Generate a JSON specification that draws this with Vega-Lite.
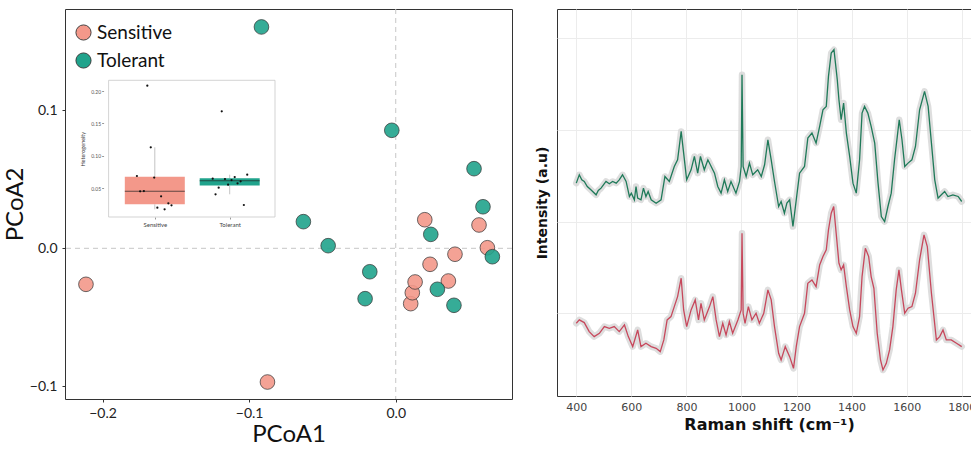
{
  "$schema": "https://vega.github.io/schema/vega-lite/v6.json",
  "padding": {"left": 2, "top": 8, "right": 0, "bottom": 0},
  "spacing": 45,
  "bounds": "flush",
  "config": {
    "font": "Lato",
    "view": {"stroke": "#333333", "strokeWidth": 1},
    "axis": {"grid": false}
  },
  "resolve": {"scale": {"color": "independent"}},
  "datasets": {
    "pcoa": [
      {"group": "Sensitive", "PCoA1": -0.2113, "PCoA2": -0.0261},
      {"group": "Sensitive", "PCoA1": -0.0875, "PCoA2": -0.0969},
      {"group": "Sensitive", "PCoA1": 0.0198, "PCoA2": 0.0207},
      {"group": "Sensitive", "PCoA1": 0.0568, "PCoA2": 0.0169},
      {"group": "Sensitive", "PCoA1": 0.0625, "PCoA2": 0.0004},
      {"group": "Sensitive", "PCoA1": 0.0404, "PCoA2": -0.0043},
      {"group": "Sensitive", "PCoA1": 0.0234, "PCoA2": -0.0116},
      {"group": "Sensitive", "PCoA1": 0.0359, "PCoA2": -0.0237},
      {"group": "Sensitive", "PCoA1": 0.0102, "PCoA2": -0.0401},
      {"group": "Sensitive", "PCoA1": 0.0113, "PCoA2": -0.0322},
      {"group": "Sensitive", "PCoA1": 0.0132, "PCoA2": -0.0244},
      {"group": "Tolerant", "PCoA1": -0.0916, "PCoA2": 0.1604},
      {"group": "Tolerant", "PCoA1": -0.0027, "PCoA2": 0.0855},
      {"group": "Tolerant", "PCoA1": 0.0534, "PCoA2": 0.0577},
      {"group": "Tolerant", "PCoA1": 0.0595, "PCoA2": 0.0301},
      {"group": "Tolerant", "PCoA1": -0.063, "PCoA2": 0.0193},
      {"group": "Tolerant", "PCoA1": 0.0239, "PCoA2": 0.0101},
      {"group": "Tolerant", "PCoA1": -0.0461, "PCoA2": 0.0019},
      {"group": "Tolerant", "PCoA1": 0.0659, "PCoA2": -0.0061},
      {"group": "Tolerant", "PCoA1": -0.0177, "PCoA2": -0.017},
      {"group": "Tolerant", "PCoA1": -0.0209, "PCoA2": -0.0365},
      {"group": "Tolerant", "PCoA1": 0.0284, "PCoA2": -0.0297},
      {"group": "Tolerant", "PCoA1": 0.0397, "PCoA2": -0.0413}
    ],
    "het": [
      {"group": "Sensitive", "het": 0.2082, "jitter": -0.1},
      {"group": "Sensitive", "het": 0.1132, "jitter": -0.054},
      {"group": "Sensitive", "het": 0.069, "jitter": -0.239},
      {"group": "Sensitive", "het": 0.0666, "jitter": -0.008},
      {"group": "Sensitive", "het": 0.0454, "jitter": -0.196},
      {"group": "Sensitive", "het": 0.0458, "jitter": -0.146},
      {"group": "Sensitive", "het": 0.0377, "jitter": 0.084},
      {"group": "Sensitive", "het": 0.0201, "jitter": 0.034},
      {"group": "Sensitive", "het": 0.0176, "jitter": 0.131},
      {"group": "Sensitive", "het": 0.0269, "jitter": 0.181},
      {"group": "Sensitive", "het": 0.0238, "jitter": 0.223},
      {"group": "Tolerant", "het": 0.1687, "jitter": -0.106},
      {"group": "Tolerant", "het": 0.0648, "jitter": -0.227},
      {"group": "Tolerant", "het": 0.0643, "jitter": -0.063},
      {"group": "Tolerant", "het": 0.0628, "jitter": 0.025},
      {"group": "Tolerant", "het": 0.0674, "jitter": 0.067},
      {"group": "Tolerant", "het": 0.071, "jitter": 0.234},
      {"group": "Tolerant", "het": 0.0608, "jitter": 0.146},
      {"group": "Tolerant", "het": 0.0577, "jitter": 0.105},
      {"group": "Tolerant", "het": 0.0556, "jitter": -0.021},
      {"group": "Tolerant", "het": 0.0509, "jitter": -0.147},
      {"group": "Tolerant", "het": 0.0408, "jitter": -0.189},
      {"group": "Tolerant", "het": 0.0243, "jitter": 0.189}
    ],
    "spectra": [
      {"shift": 400, "sample": "Tolerant", "intensity": 650},
      {"shift": 411, "sample": "Tolerant", "intensity": 675},
      {"shift": 420, "sample": "Tolerant", "intensity": 660},
      {"shift": 429, "sample": "Tolerant", "intensity": 655},
      {"shift": 440, "sample": "Tolerant", "intensity": 640},
      {"shift": 453, "sample": "Tolerant", "intensity": 630},
      {"shift": 472, "sample": "Tolerant", "intensity": 615},
      {"shift": 480, "sample": "Tolerant", "intensity": 628},
      {"shift": 490, "sample": "Tolerant", "intensity": 635},
      {"shift": 508, "sample": "Tolerant", "intensity": 655},
      {"shift": 520, "sample": "Tolerant", "intensity": 648},
      {"shift": 532, "sample": "Tolerant", "intensity": 655},
      {"shift": 545, "sample": "Tolerant", "intensity": 650},
      {"shift": 556, "sample": "Tolerant", "intensity": 660},
      {"shift": 568, "sample": "Tolerant", "intensity": 675},
      {"shift": 581, "sample": "Tolerant", "intensity": 655},
      {"shift": 593, "sample": "Tolerant", "intensity": 610},
      {"shift": 600, "sample": "Tolerant", "intensity": 620},
      {"shift": 611, "sample": "Tolerant", "intensity": 600},
      {"shift": 617, "sample": "Tolerant", "intensity": 640},
      {"shift": 623, "sample": "Tolerant", "intensity": 605},
      {"shift": 635, "sample": "Tolerant", "intensity": 600},
      {"shift": 644, "sample": "Tolerant", "intensity": 635},
      {"shift": 653, "sample": "Tolerant", "intensity": 610},
      {"shift": 661, "sample": "Tolerant", "intensity": 625},
      {"shift": 672, "sample": "Tolerant", "intensity": 600},
      {"shift": 690, "sample": "Tolerant", "intensity": 590},
      {"shift": 708, "sample": "Tolerant", "intensity": 600},
      {"shift": 722, "sample": "Tolerant", "intensity": 670},
      {"shift": 738, "sample": "Tolerant", "intensity": 655},
      {"shift": 756, "sample": "Tolerant", "intensity": 700},
      {"shift": 768, "sample": "Tolerant", "intensity": 720},
      {"shift": 781, "sample": "Tolerant", "intensity": 805},
      {"shift": 790, "sample": "Tolerant", "intensity": 740},
      {"shift": 801, "sample": "Tolerant", "intensity": 660},
      {"shift": 817, "sample": "Tolerant", "intensity": 690},
      {"shift": 829, "sample": "Tolerant", "intensity": 730},
      {"shift": 841, "sample": "Tolerant", "intensity": 680},
      {"shift": 851, "sample": "Tolerant", "intensity": 730},
      {"shift": 865, "sample": "Tolerant", "intensity": 690},
      {"shift": 878, "sample": "Tolerant", "intensity": 720},
      {"shift": 890, "sample": "Tolerant", "intensity": 700},
      {"shift": 902, "sample": "Tolerant", "intensity": 680},
      {"shift": 914, "sample": "Tolerant", "intensity": 640},
      {"shift": 926, "sample": "Tolerant", "intensity": 620},
      {"shift": 938, "sample": "Tolerant", "intensity": 660},
      {"shift": 950, "sample": "Tolerant", "intensity": 625},
      {"shift": 962, "sample": "Tolerant", "intensity": 655},
      {"shift": 980, "sample": "Tolerant", "intensity": 620},
      {"shift": 993, "sample": "Tolerant", "intensity": 655},
      {"shift": 999, "sample": "Tolerant", "intensity": 700},
      {"shift": 1002, "sample": "Tolerant", "intensity": 975},
      {"shift": 1006, "sample": "Tolerant", "intensity": 700},
      {"shift": 1017, "sample": "Tolerant", "intensity": 670},
      {"shift": 1029, "sample": "Tolerant", "intensity": 710},
      {"shift": 1041, "sample": "Tolerant", "intensity": 675},
      {"shift": 1059, "sample": "Tolerant", "intensity": 690},
      {"shift": 1072, "sample": "Tolerant", "intensity": 670},
      {"shift": 1084, "sample": "Tolerant", "intensity": 705},
      {"shift": 1096, "sample": "Tolerant", "intensity": 780},
      {"shift": 1108, "sample": "Tolerant", "intensity": 720},
      {"shift": 1120, "sample": "Tolerant", "intensity": 655},
      {"shift": 1135, "sample": "Tolerant", "intensity": 580},
      {"shift": 1144, "sample": "Tolerant", "intensity": 595},
      {"shift": 1156, "sample": "Tolerant", "intensity": 560},
      {"shift": 1165, "sample": "Tolerant", "intensity": 590},
      {"shift": 1175, "sample": "Tolerant", "intensity": 600},
      {"shift": 1187, "sample": "Tolerant", "intensity": 520},
      {"shift": 1199, "sample": "Tolerant", "intensity": 600},
      {"shift": 1211, "sample": "Tolerant", "intensity": 680},
      {"shift": 1229, "sample": "Tolerant", "intensity": 700},
      {"shift": 1241, "sample": "Tolerant", "intensity": 785},
      {"shift": 1256, "sample": "Tolerant", "intensity": 800},
      {"shift": 1271, "sample": "Tolerant", "intensity": 770},
      {"shift": 1284, "sample": "Tolerant", "intensity": 820},
      {"shift": 1296, "sample": "Tolerant", "intensity": 870},
      {"shift": 1308, "sample": "Tolerant", "intensity": 880},
      {"shift": 1316, "sample": "Tolerant", "intensity": 970},
      {"shift": 1326, "sample": "Tolerant", "intensity": 1040},
      {"shift": 1336, "sample": "Tolerant", "intensity": 1050},
      {"shift": 1348, "sample": "Tolerant", "intensity": 960},
      {"shift": 1354, "sample": "Tolerant", "intensity": 900},
      {"shift": 1362, "sample": "Tolerant", "intensity": 840},
      {"shift": 1371, "sample": "Tolerant", "intensity": 890},
      {"shift": 1381, "sample": "Tolerant", "intensity": 800},
      {"shift": 1393, "sample": "Tolerant", "intensity": 730},
      {"shift": 1405, "sample": "Tolerant", "intensity": 650},
      {"shift": 1417, "sample": "Tolerant", "intensity": 620},
      {"shift": 1429, "sample": "Tolerant", "intensity": 720},
      {"shift": 1438, "sample": "Tolerant", "intensity": 860},
      {"shift": 1447, "sample": "Tolerant", "intensity": 880},
      {"shift": 1459, "sample": "Tolerant", "intensity": 860},
      {"shift": 1471, "sample": "Tolerant", "intensity": 820},
      {"shift": 1484, "sample": "Tolerant", "intensity": 770},
      {"shift": 1496, "sample": "Tolerant", "intensity": 650},
      {"shift": 1508, "sample": "Tolerant", "intensity": 550},
      {"shift": 1520, "sample": "Tolerant", "intensity": 535},
      {"shift": 1532, "sample": "Tolerant", "intensity": 580},
      {"shift": 1544, "sample": "Tolerant", "intensity": 620},
      {"shift": 1556, "sample": "Tolerant", "intensity": 720},
      {"shift": 1566, "sample": "Tolerant", "intensity": 790},
      {"shift": 1573, "sample": "Tolerant", "intensity": 840},
      {"shift": 1583, "sample": "Tolerant", "intensity": 780},
      {"shift": 1593, "sample": "Tolerant", "intensity": 700},
      {"shift": 1605, "sample": "Tolerant", "intensity": 710},
      {"shift": 1619, "sample": "Tolerant", "intensity": 720},
      {"shift": 1632, "sample": "Tolerant", "intensity": 760},
      {"shift": 1647, "sample": "Tolerant", "intensity": 870},
      {"shift": 1665, "sample": "Tolerant", "intensity": 925},
      {"shift": 1678, "sample": "Tolerant", "intensity": 880},
      {"shift": 1690, "sample": "Tolerant", "intensity": 770},
      {"shift": 1702, "sample": "Tolerant", "intensity": 660},
      {"shift": 1714, "sample": "Tolerant", "intensity": 605},
      {"shift": 1726, "sample": "Tolerant", "intensity": 615},
      {"shift": 1738, "sample": "Tolerant", "intensity": 625},
      {"shift": 1750, "sample": "Tolerant", "intensity": 610},
      {"shift": 1768, "sample": "Tolerant", "intensity": 615},
      {"shift": 1787, "sample": "Tolerant", "intensity": 610},
      {"shift": 1800, "sample": "Tolerant", "intensity": 595},
      {"shift": 400, "sample": "Sensitive", "intensity": 230},
      {"shift": 411, "sample": "Sensitive", "intensity": 240},
      {"shift": 429, "sample": "Sensitive", "intensity": 232},
      {"shift": 447, "sample": "Sensitive", "intensity": 205},
      {"shift": 465, "sample": "Sensitive", "intensity": 190},
      {"shift": 484, "sample": "Sensitive", "intensity": 200},
      {"shift": 502, "sample": "Sensitive", "intensity": 220},
      {"shift": 520, "sample": "Sensitive", "intensity": 215},
      {"shift": 538, "sample": "Sensitive", "intensity": 220},
      {"shift": 556, "sample": "Sensitive", "intensity": 205},
      {"shift": 575, "sample": "Sensitive", "intensity": 225},
      {"shift": 589, "sample": "Sensitive", "intensity": 190},
      {"shift": 605, "sample": "Sensitive", "intensity": 160},
      {"shift": 623, "sample": "Sensitive", "intensity": 210},
      {"shift": 635, "sample": "Sensitive", "intensity": 160},
      {"shift": 653, "sample": "Sensitive", "intensity": 170},
      {"shift": 672, "sample": "Sensitive", "intensity": 160},
      {"shift": 690, "sample": "Sensitive", "intensity": 155},
      {"shift": 705, "sample": "Sensitive", "intensity": 145},
      {"shift": 718, "sample": "Sensitive", "intensity": 180},
      {"shift": 730, "sample": "Sensitive", "intensity": 240},
      {"shift": 744, "sample": "Sensitive", "intensity": 250},
      {"shift": 756, "sample": "Sensitive", "intensity": 280},
      {"shift": 768, "sample": "Sensitive", "intensity": 310},
      {"shift": 781, "sample": "Sensitive", "intensity": 365},
      {"shift": 790, "sample": "Sensitive", "intensity": 270},
      {"shift": 801, "sample": "Sensitive", "intensity": 220},
      {"shift": 817, "sample": "Sensitive", "intensity": 270},
      {"shift": 832, "sample": "Sensitive", "intensity": 300},
      {"shift": 844, "sample": "Sensitive", "intensity": 240},
      {"shift": 853, "sample": "Sensitive", "intensity": 290},
      {"shift": 865, "sample": "Sensitive", "intensity": 240},
      {"shift": 884, "sample": "Sensitive", "intensity": 280},
      {"shift": 896, "sample": "Sensitive", "intensity": 310},
      {"shift": 908, "sample": "Sensitive", "intensity": 240},
      {"shift": 920, "sample": "Sensitive", "intensity": 190},
      {"shift": 932, "sample": "Sensitive", "intensity": 230},
      {"shift": 944, "sample": "Sensitive", "intensity": 195},
      {"shift": 956, "sample": "Sensitive", "intensity": 235},
      {"shift": 968, "sample": "Sensitive", "intensity": 200},
      {"shift": 987, "sample": "Sensitive", "intensity": 240},
      {"shift": 999, "sample": "Sensitive", "intensity": 270},
      {"shift": 1002, "sample": "Sensitive", "intensity": 500},
      {"shift": 1006, "sample": "Sensitive", "intensity": 260},
      {"shift": 1013, "sample": "Sensitive", "intensity": 230},
      {"shift": 1025, "sample": "Sensitive", "intensity": 280},
      {"shift": 1038, "sample": "Sensitive", "intensity": 240},
      {"shift": 1053, "sample": "Sensitive", "intensity": 260},
      {"shift": 1065, "sample": "Sensitive", "intensity": 230},
      {"shift": 1081, "sample": "Sensitive", "intensity": 260},
      {"shift": 1096, "sample": "Sensitive", "intensity": 330},
      {"shift": 1108, "sample": "Sensitive", "intensity": 300},
      {"shift": 1120, "sample": "Sensitive", "intensity": 220},
      {"shift": 1135, "sample": "Sensitive", "intensity": 140},
      {"shift": 1144, "sample": "Sensitive", "intensity": 120},
      {"shift": 1159, "sample": "Sensitive", "intensity": 160},
      {"shift": 1175, "sample": "Sensitive", "intensity": 130},
      {"shift": 1189, "sample": "Sensitive", "intensity": 95},
      {"shift": 1199, "sample": "Sensitive", "intensity": 160},
      {"shift": 1211, "sample": "Sensitive", "intensity": 220},
      {"shift": 1229, "sample": "Sensitive", "intensity": 260},
      {"shift": 1241, "sample": "Sensitive", "intensity": 350},
      {"shift": 1256, "sample": "Sensitive", "intensity": 360},
      {"shift": 1271, "sample": "Sensitive", "intensity": 340},
      {"shift": 1284, "sample": "Sensitive", "intensity": 405},
      {"shift": 1296, "sample": "Sensitive", "intensity": 430},
      {"shift": 1308, "sample": "Sensitive", "intensity": 450},
      {"shift": 1316, "sample": "Sensitive", "intensity": 510},
      {"shift": 1326, "sample": "Sensitive", "intensity": 560},
      {"shift": 1335, "sample": "Sensitive", "intensity": 580},
      {"shift": 1344, "sample": "Sensitive", "intensity": 500},
      {"shift": 1354, "sample": "Sensitive", "intensity": 410},
      {"shift": 1362, "sample": "Sensitive", "intensity": 390},
      {"shift": 1371, "sample": "Sensitive", "intensity": 405},
      {"shift": 1381, "sample": "Sensitive", "intensity": 340},
      {"shift": 1393, "sample": "Sensitive", "intensity": 270},
      {"shift": 1405, "sample": "Sensitive", "intensity": 220},
      {"shift": 1417, "sample": "Sensitive", "intensity": 200},
      {"shift": 1429, "sample": "Sensitive", "intensity": 250},
      {"shift": 1438, "sample": "Sensitive", "intensity": 370},
      {"shift": 1450, "sample": "Sensitive", "intensity": 455},
      {"shift": 1462, "sample": "Sensitive", "intensity": 430},
      {"shift": 1471, "sample": "Sensitive", "intensity": 370},
      {"shift": 1481, "sample": "Sensitive", "intensity": 335},
      {"shift": 1493, "sample": "Sensitive", "intensity": 200},
      {"shift": 1505, "sample": "Sensitive", "intensity": 120},
      {"shift": 1514, "sample": "Sensitive", "intensity": 90},
      {"shift": 1526, "sample": "Sensitive", "intensity": 110},
      {"shift": 1538, "sample": "Sensitive", "intensity": 150},
      {"shift": 1550, "sample": "Sensitive", "intensity": 220},
      {"shift": 1562, "sample": "Sensitive", "intensity": 330},
      {"shift": 1572, "sample": "Sensitive", "intensity": 390},
      {"shift": 1581, "sample": "Sensitive", "intensity": 330},
      {"shift": 1593, "sample": "Sensitive", "intensity": 260},
      {"shift": 1605, "sample": "Sensitive", "intensity": 275},
      {"shift": 1619, "sample": "Sensitive", "intensity": 280},
      {"shift": 1632, "sample": "Sensitive", "intensity": 320},
      {"shift": 1647, "sample": "Sensitive", "intensity": 420},
      {"shift": 1663, "sample": "Sensitive", "intensity": 495},
      {"shift": 1675, "sample": "Sensitive", "intensity": 460},
      {"shift": 1690, "sample": "Sensitive", "intensity": 320},
      {"shift": 1708, "sample": "Sensitive", "intensity": 180},
      {"shift": 1720, "sample": "Sensitive", "intensity": 190},
      {"shift": 1732, "sample": "Sensitive", "intensity": 210},
      {"shift": 1744, "sample": "Sensitive", "intensity": 180},
      {"shift": 1762, "sample": "Sensitive", "intensity": 180},
      {"shift": 1781, "sample": "Sensitive", "intensity": 170},
      {"shift": 1800, "sample": "Sensitive", "intensity": 160}
    ]
  },
  "hconcat": [
    {
      "width": 447,
      "height": 390,
      "layer": [
        {
          "layer": [
            {
              "data": {"values": [{}]},
              "mark": {"type": "rule", "color": "#c6c6c6", "strokeDash": [5, 4], "strokeWidth": 1},
              "encoding": {"x": {"datum": 0, "type": "quantitative"}}
            },
            {
              "data": {"values": [{}]},
              "mark": {"type": "rule", "color": "#c6c6c6", "strokeDash": [5, 4], "strokeWidth": 1},
              "encoding": {"y": {"datum": 0, "type": "quantitative"}}
            },
            {
              "data": {"name": "pcoa"},
              "mark": {"type": "point", "shape": "circle", "filled": true, "size": 215, "stroke": "#333333", "strokeWidth": 0.9, "opacity": 1, "fillOpacity": 0.9, "strokeOpacity": 0.8},
              "encoding": {
                "x": {
                  "field": "PCoA1", "type": "quantitative",
                  "scale": {"domain": [-0.2256, 0.0793], "nice": false, "zero": false},
                  "axis": {"title": "PCoA1", "values": [-0.2, -0.1, 0], "format": ".1f", "domain": false, "tickSize": 3, "tickColor": "#333333", "labelFontSize": 14, "labelColor": "#222222", "labelPadding": 4, "titleFontSize": 24, "titleFontWeight": "normal", "titleColor": "#111111", "titlePadding": 2}
                },
                "y": {
                  "field": "PCoA2", "type": "quantitative",
                  "scale": {"domain": [-0.1092, 0.1734], "nice": false, "zero": false},
                  "axis": {"title": "PCoA2", "values": [-0.1, 0, 0.1], "format": ".1f", "domain": false, "tickSize": 3, "tickColor": "#333333", "labelFontSize": 14, "labelColor": "#222222", "labelPadding": 5, "titleFontSize": 24, "titleFontWeight": "normal", "titleColor": "#111111", "titlePadding": 2}
                },
                "color": {
                  "field": "group", "type": "nominal",
                  "scale": {"domain": ["Sensitive", "Tolerant"], "range": ["#F3988A", "#20A38C"]},
                  "legend": {"title": null, "orient": "none", "legendX": 9, "legendY": 14, "labelFontSize": 19, "labelColor": "#111111", "symbolType": "circle", "symbolSize": 230, "symbolStrokeColor": "#333333", "symbolStrokeWidth": 0.9, "symbolOpacity": 0.95, "rowPadding": 8, "labelOffset": 4}
                }
              }
            }
          ]
        },
        {
          "data": {"name": "het"},
          "transform": [
            {"calculate": "datum.group === 'Sensitive' ? 1 : 2", "as": "gpos"},
            {"calculate": "datum.gpos + datum.jitter", "as": "jpos"}
          ],
          "layer": [
            {
              "data": {"values": [{}]},
              "mark": {"type": "rect", "fill": "#ffffff", "stroke": "#c8c8c8", "strokeWidth": 0.8},
              "encoding": {
                "x": {"datum": 0.383, "type": "quantitative"},
                "x2": {"datum": 2.605},
                "y": {"datum": 0.0058, "type": "quantitative"},
                "y2": {"datum": 0.2165}
              }
            },
            {
              "mark": {"type": "boxplot", "size": 60, "extent": 1.5, "outliers": false, "median": {"color": "#222222", "strokeWidth": 0.8}, "rule": {"color": "#c4c4c4", "strokeWidth": 1}, "box": {"opacity": 1}},
              "encoding": {
                "x": {
                  "field": "gpos", "type": "quantitative",
                  "scale": {"domain": [0.383, 2.605], "range": [38.6, 215], "nice": false, "zero": false},
                  "axis": {"title": null, "orient": "bottom", "offset": -182, "values": [1, 2], "labelExpr": "datum.value == 1 ? 'Sensitive' : 'Tolerant'", "domain": false, "tickSize": 2, "tickColor": "#999999", "labelFontSize": 6, "labelColor": "#444444", "labelPadding": 2}
                },
                "y": {
                  "field": "het", "type": "quantitative",
                  "scale": {"domain": [0.0058, 0.2165], "range": [208, 71.3], "nice": false, "zero": false},
                  "axis": {"title": "Heterogeneity", "orient": "left", "offset": -38.6, "values": [0.05, 0.1, 0.15, 0.2], "format": ".2f", "domain": false, "tickSize": 2, "tickColor": "#999999", "labelFontSize": 5, "labelColor": "#555555", "labelPadding": 1, "titleFontSize": 5.5, "titleFontWeight": "normal", "titleColor": "#333333", "titlePadding": 5}
                },
                "color": {"field": "group", "type": "nominal"}
              }
            },
            {
              "mark": {"type": "circle", "size": 5, "color": "#111111", "opacity": 1},
              "encoding": {
                "x": {"field": "jpos", "type": "quantitative"},
                "y": {"field": "het", "type": "quantitative"}
              }
            }
          ]
        }
      ],
      "resolve": {"scale": {"x": "independent", "y": "independent"}}
    },
    {
      "width": 424,
      "height": 387,
      "data": {"name": "spectra"},
      "encoding": {
        "x": {
          "field": "shift", "type": "quantitative",
          "scale": {"domain": [330, 1870], "nice": false, "zero": false},
          "axis": {"title": "Raman shift (cm⁻¹)", "values": [400, 600, 800, 1000, 1200, 1400, 1600, 1800], "format": "d", "grid": true, "gridColor": "#ececec", "domain": false, "ticks": false, "labelFont": "DejaVu Sans", "labelFontSize": 11, "labelColor": "#444444", "labelPadding": 5, "titleFont": "DejaVu Sans", "titleFontSize": 16, "titleFontWeight": "bold", "titleColor": "#111111", "titlePadding": 4}
        },
        "y": {
          "field": "intensity", "type": "quantitative",
          "scale": {"domain": [12, 1172], "nice": false, "zero": false},
          "axis": {"title": "Intensity (a.u)", "values": [260, 535, 810, 1085], "labels": false, "ticks": false, "grid": true, "gridColor": "#ececec", "domain": false, "titleFont": "DejaVu Sans", "titleFontSize": 14, "titleFontWeight": "bold", "titleColor": "#111111", "titlePadding": 8}
        }
      },
      "layer": [
        {
          "mark": {"type": "line", "strokeWidth": 6.5, "color": "#d6d6d6", "opacity": 0.8, "strokeJoin": "round", "strokeCap": "round"},
          "encoding": {"detail": {"field": "sample", "type": "nominal"}}
        },
        {
          "mark": {"type": "line", "strokeWidth": 1.3},
          "encoding": {
            "color": {"field": "sample", "type": "nominal", "scale": {"domain": ["Tolerant", "Sensitive"], "range": ["#1f7a59", "#c7485c"]}, "legend": null}
          }
        }
      ]
    }
  ]
}
